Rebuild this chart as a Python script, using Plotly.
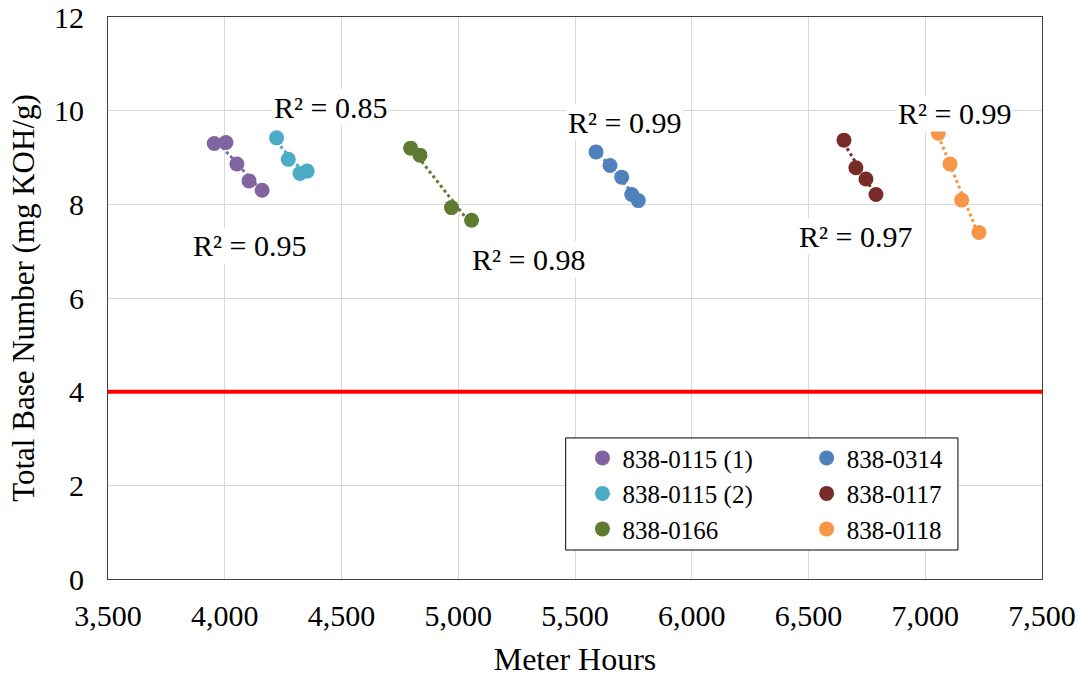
import numpy as np
import plotly.graph_objects as go

# ---- data ----
series_names = ["838-0115 (1)", "838-0115 (2)", "838-0166", "838-0314", "838-0117", "838-0118"]
hours_0115_1 = [3955, 4005, 4052, 4104, 4160]
tbn_0115_1 = [9.30, 9.32, 8.86, 8.50, 8.30]
hours_0115_2 = [4222, 4272, 4322, 4353]
tbn_0115_2 = [9.42, 8.96, 8.66, 8.71]
hours_0166 = [4796, 4836, 4971, 5057]
tbn_0166 = [9.20, 9.05, 7.93, 7.66]
hours_0314 = [5590, 5650, 5700, 5743, 5771]
tbn_0314 = [9.12, 8.83, 8.58, 8.21, 8.08]
hours_0117 = [6652, 6703, 6746, 6789]
tbn_0117 = [9.37, 8.78, 8.54, 8.21]
hours_0118 = [7056, 7106, 7156, 7230]
tbn_0118 = [9.52, 8.86, 8.09, 7.40]
r2_labels = ["R² = 0.95", "R² = 0.85", "R² = 0.98", "R² = 0.99", "R² = 0.97", "R² = 0.99"]
r2_x = [4108, 4455, 5299, 5710, 6703, 7127]
r2_y = [7.13, 10.06, 6.83, 9.74, 7.32, 9.95]
limit_tbn = 4

colors = ["#8064A2", "#4BACC6", "#5E7B2F", "#4F81BD", "#772C2A", "#F79646"]
xs = [hours_0115_1, hours_0115_2, hours_0166, hours_0314, hours_0117, hours_0118]
ys = [tbn_0115_1, tbn_0115_2, tbn_0166, tbn_0314, tbn_0117, tbn_0118]
legend_ref = ["legend", "legend", "legend", "legend2", "legend2", "legend2"]

FONT = "Liberation Serif"

fig = go.Figure()

# trendlines (linear fits)
for x, y, c in zip(xs, ys, colors):
    x = np.array(x, float); y = np.array(y, float)
    m, b = np.polyfit(x, y, 1)
    xx = np.array([x.min(), x.max()])
    fig.add_trace(go.Scatter(x=xx, y=m * xx + b, mode="lines",
                             line=dict(color=c, width=3, dash="dot"),
                             showlegend=False, hoverinfo="skip"))

for name, x, y, c, lg in zip(series_names, xs, ys, colors, legend_ref):
    fig.add_trace(go.Scatter(x=x, y=y, mode="markers", name=name,
                             marker=dict(color=c, size=15),
                             legend=lg))

# limit line
fig.add_shape(type="line", xref="paper", x0=0, x1=1, yref="y", y0=limit_tbn, y1=limit_tbn,
              line=dict(color="#FF0000", width=4), layer="above")

# legend box
fig.add_shape(type="rect", xref="paper", yref="paper", x0=0.490, x1=0.910, y0=0.0516, y1=0.251,
              line=dict(color="#000000", width=1), fillcolor="white", layer="above")

for t, ax, ay in zip(r2_labels, r2_x, r2_y):
    fig.add_annotation(x=ax, y=ay, text=t, showarrow=False, bgcolor="white",
                       font=dict(family=FONT, size=30, color="black"),
                       xanchor="center", yanchor="middle")

fig.update_layout(
    width=1078, height=677,
    margin=dict(l=108, r=36, t=17, b=98, autoexpand=False),
    paper_bgcolor="white", plot_bgcolor="white",
    font=dict(family=FONT, color="black"),
    xaxis=dict(range=[3500, 7500], dtick=500, tick0=3500, tickformat=",",
               showgrid=True, gridcolor="#D9D9D9", gridwidth=1,
               showline=True, linecolor="#404040", linewidth=1, mirror=True,
               zeroline=False, ticks="", ticklabelstandoff=10, automargin=False,
               ticklabeloverflow="allow",
               tickfont=dict(family=FONT, size=30, color="black"),
               title=dict(text="Meter Hours", font=dict(family=FONT, size=32, color="black"), standoff=25)),
    yaxis=dict(range=[0, 12], dtick=2, tick0=0,
               showgrid=True, gridcolor="#D9D9D9", gridwidth=1,
               showline=True, linecolor="#404040", linewidth=1, mirror=True,
               zeroline=False, ticks="", ticklabelstandoff=17, automargin=False,
               ticklabeloverflow="allow",
               tickfont=dict(family=FONT, size=30, color="black"),
               title=dict(text="Total Base Number (mg KOH/g)", font=dict(family=FONT, size=31, color="black"), standoff=10)),
    legend=dict(x=0.508, y=0.256, xanchor="left", yanchor="top", bgcolor="rgba(0,0,0,0)",
                font=dict(family=FONT, size=25, color="black"), borderwidth=0),
    legend2=dict(x=0.748, y=0.256, xanchor="left", yanchor="top", bgcolor="rgba(0,0,0,0)",
                 font=dict(family=FONT, size=25, color="black"), borderwidth=0),
)

fig.write_html("out.html", config={"displayModeBar": False},
               post_script="document.body.style.margin='0';document.body.style.overflow='hidden';")
